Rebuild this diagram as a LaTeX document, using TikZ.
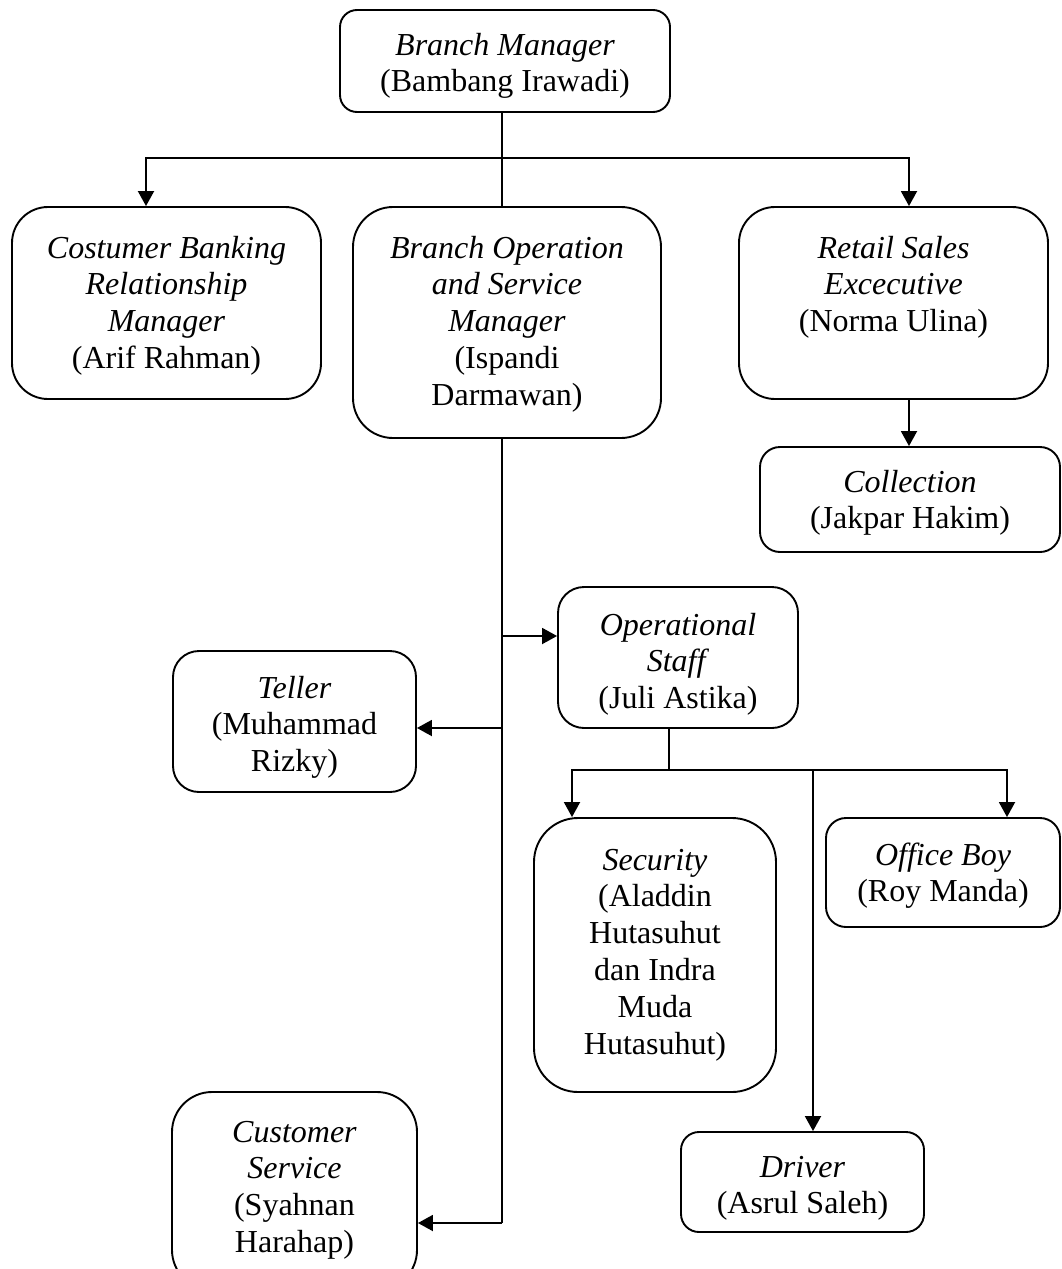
\documentclass[tikz,border=0pt]{standalone}
\usepackage{fontspec}
\setmainfont{Liberation Serif}
\usetikzlibrary{arrows.meta}
\begin{document}
\begin{tikzpicture}[x=1pt,y=-1pt,
  line width=1.9pt,
  >={Triangle[width=16pt,length=15pt]},
  box/.style n args={4}{draw, rounded corners=#3, inner sep=0pt,
    minimum width=#1, minimum height=#2,
    execute at begin node={\begin{minipage}[t][#2][t]{#1}\fontsize{32}{36.8}\selectfont\centering\rule{0pt}{#4}},
    execute at end node={\end{minipage}}}]
\useasboundingbox (0,0) rectangle (1062,1269);

% nodes
\node[box={330pt}{102pt}{17pt}{45pt}] (bm) at (505,61) {\textit{Branch Manager}\\(Bambang Irawadi)};
\node[box={309pt}{192pt}{36pt}{51pt}] (cbrm) at (166.5,303) {\textit{Costumer Banking}\\\textit{Relationship}\\\textit{Manager}\\(Arif Rahman)};
\node[box={308pt}{231pt}{40pt}{51pt}] (bosm) at (507,322.5) {\textit{Branch Operation}\\\textit{and Service}\\\textit{Manager}\\(Ispandi\\Darmawan)};
\node[box={309pt}{192pt}{36pt}{51pt}] (rse) at (893.5,303) {\textit{Retail Sales}\\\textit{Excecutive}\\(Norma Ulina)};
\node[box={300pt}{105pt}{20pt}{45pt}] (coll) at (910,499.5) {\textit{Collection}\\(Jakpar Hakim)};
\node[box={240pt}{141pt}{26pt}{48pt}] (ops) at (678,657.5) {\textit{Operational}\\\textit{Staff}\\(Juli Astika)};
\node[box={243pt}{141pt}{26pt}{47pt}] (tel) at (294.5,721.5) {\textit{Teller}\\(Muhammad\\Rizky)};
\node[box={242pt}{274pt}{44pt}{52pt}] (sec) at (655,955) {\textit{Security}\\(Aladdin\\Hutasuhut\\dan Indra\\Muda\\Hutasuhut)};
\node[box={234pt}{109pt}{20pt}{47pt}] (ob) at (943,872.5) {\textit{Office Boy}\\(Roy Manda)};
\node[box={243pt}{100pt}{18pt}{45pt}] (drv) at (802.5,1182) {\textit{Driver}\\(Asrul Saleh)};
\node[box={245pt}{198pt}{40pt}{50pt}] (cs) at (294.5,1191) {\textit{Customer}\\\textit{Service}\\(Syahnan\\Harahap)};

% junction coordinates
\coordinate (sp) at (502,158);
\coordinate (hl) at (146,158);
\coordinate (hr) at (909,158);
\coordinate (j1) at (502,636);
\coordinate (j2) at (502,728);
\coordinate (j3) at (502,1223);
\coordinate (o1) at (669,770);
\coordinate (sl) at (572,770);
\coordinate (sr) at (1007,770);
\coordinate (dv) at (813,770);

% connectors
\draw (bm.south -| sp) -- (bosm.north -| sp);
\draw[<->] (cbrm.north -| hl) -- (hl) -- (hr) -- (rse.north -| hr);
\draw[->] (rse.south -| hr) -- (coll.north -| hr);
\draw (bosm.south -| sp) -- (j3);
\draw[->] (j1) -- (ops.west |- j1);
\draw[->] (j2) -- (tel.east |- j2);
\draw[->] (j3) -- (cs.east |- j3);
\draw (ops.south -| o1) -- (o1);
\draw[<->] (sec.north -| sl) -- (sl) -- (sr) -- (ob.north -| sr);
\draw[->] (dv) -- (drv.north -| dv);
\end{tikzpicture}
\end{document}
